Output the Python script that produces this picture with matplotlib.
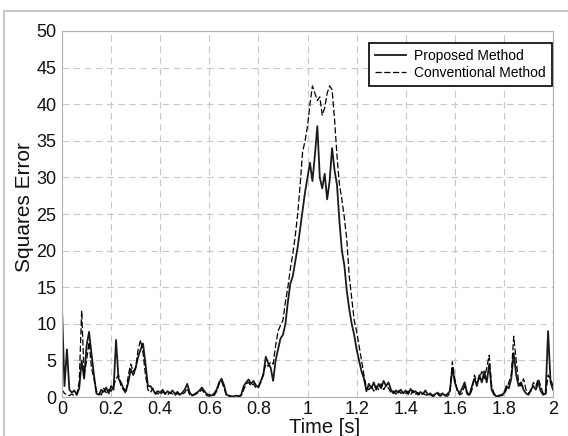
import numpy as np
import matplotlib.pyplot as plt
from matplotlib.lines import Line2D

plt.rcParams['font.family'] = ['Liberation Sans', 'DejaVu Sans']

# samples every 0.01 s
time_s = np.round(np.arange(0, 201) * 0.01, 2)

proposed = [
    12.0, 1.5, 6.5, 1.0, 0.6, 0.9, 0.3, 1.2, 5.0, 2.5,
    7.0, 8.9, 6.0, 3.0, 0.5, 0.3, 1.0, 0.7, 1.3, 0.5,
    1.5, 1.0, 7.8, 2.5, 2.0, 1.2, 0.8, 2.0, 3.8, 3.0,
    4.0, 5.5, 6.5, 7.3, 4.5, 1.5, 1.5, 1.0, 0.5, 0.8,
    0.6, 1.0, 0.4, 0.8, 0.5, 0.9, 0.4, 0.7, 0.3, 0.6,
    1.0, 1.8, 0.6, 0.2, 0.4, 0.6, 0.9, 1.3, 0.8, 0.4,
    0.3, 0.2, 0.5, 1.0, 2.0, 2.5, 1.6, 0.3, 0.2, 0.1,
    0.1, 0.2, 0.1, 0.3, 1.5, 2.0, 2.4, 1.8, 2.2, 1.6,
    1.3, 2.2, 3.0, 5.5, 4.6, 4.0, 2.2, 5.0, 6.5, 8.0,
    8.5, 10.0, 13.0, 15.5, 16.5, 18.5, 20.5, 23.0, 25.5, 28.0,
    30.0, 32.0, 29.5, 33.0, 37.0, 30.0, 28.5, 30.5, 27.0, 29.5,
    34.0, 31.0, 29.0, 24.0, 20.0, 18.0, 14.5, 12.0, 10.0, 8.5,
    6.5, 5.0, 3.5, 2.5, 0.8, 1.8, 1.2, 2.0, 1.0, 1.8,
    1.2, 2.2, 1.5, 2.0, 1.0, 0.5, 0.9, 0.6, 1.0, 0.5,
    0.9, 0.4, 1.1, 0.6, 0.8, 0.3, 0.7, 0.4, 0.9, 0.3,
    0.5, 0.2, 0.4, 0.6, 0.3, 0.5, 0.2, 0.4, 0.8, 4.0,
    2.0, 1.0, 0.5, 1.2, 2.0, 0.6, 0.3, 1.5, 2.5, 1.5,
    3.0, 2.0, 3.5, 2.0, 4.5, 1.0, 0.3, 0.1, 0.2, 0.3,
    0.5, 1.5, 1.2, 2.5, 6.0, 3.0, 1.5, 2.0, 1.0, 0.5,
    0.3, 1.0, 1.5, 1.0, 2.0, 0.8, 0.3, 0.5, 9.0, 2.0,
    1.0,
]

conventional = [
    1.0, 0.5, 0.3, 0.2, 0.4, 0.2, 0.3, 2.0, 11.8, 3.0,
    5.0, 7.5, 4.0, 2.5, 0.8, 0.5, 0.3, 1.2, 0.6, 1.0,
    0.8, 1.5, 2.5, 3.0, 1.5, 1.0, 0.5, 3.0, 4.5, 3.5,
    4.0, 6.5, 7.8, 6.0, 3.0, 1.0, 0.6, 1.2, 0.4, 0.5,
    0.3, 0.7, 0.5, 0.3, 0.6, 0.4, 0.2, 0.5, 0.3, 0.4,
    0.6, 1.2, 0.3, 0.2, 0.3, 0.5, 0.7, 1.0, 0.5, 0.2,
    0.1, 0.3, 0.2, 0.8, 1.8, 2.2, 1.2, 0.2, 0.1, 0.0,
    0.0, 0.1, 0.0, 0.2, 1.0, 1.8, 2.0, 1.5, 1.8, 1.2,
    1.5, 2.0, 3.2, 4.5, 4.2, 4.8, 4.5, 7.0, 9.0, 9.8,
    10.5, 13.0, 15.0, 17.5, 19.5, 22.0, 25.0, 29.0, 33.5, 35.0,
    37.0, 40.0, 42.5, 41.5, 40.5, 41.0, 38.5, 39.5, 41.5, 42.5,
    42.0, 38.0, 33.0, 29.0, 27.0, 24.5, 21.5, 16.5, 13.5, 10.5,
    9.0, 7.0, 5.0, 3.0, 1.2, 1.0, 1.5, 0.8, 1.5, 1.0,
    1.8, 1.0, 1.6, 1.2, 0.6, 0.8, 0.4, 0.9, 0.5, 0.7,
    0.5, 0.8, 0.3, 0.9, 0.4, 0.6, 0.2, 0.5, 0.3, 0.2,
    0.3, 0.1, 0.2, 0.4, 0.1, 0.3, 0.2, 0.1, 0.5, 4.8,
    2.5, 0.8, 0.3, 0.5, 1.5, 0.4, 0.2, 1.0, 3.0, 2.0,
    2.5, 3.5, 2.5, 4.0, 5.7, 1.5, 0.5, 0.2, 0.1, 0.2,
    0.3, 1.0, 2.0, 3.0, 8.3, 5.0, 2.0, 1.5, 2.5, 1.0,
    0.5, 0.8, 2.0, 1.5, 2.5, 1.5, 0.5, 0.3, 3.0, 2.5,
    1.5,
]

x_ticks = [0, 0.2, 0.4, 0.6, 0.8, 1.0, 1.2, 1.4, 1.6, 1.8, 2.0]
x_labels = ["0", "0.2", "0.4", "0.6", "0.8", "1", "1.2", "1.4", "1.6", "1.8", "2"]
y_ticks = list(range(0, 51, 5))

fig = plt.figure(figsize=(5.68, 4.36), dpi=100)
ax = fig.add_axes([0.1092, 0.0894, 0.8644, 0.8395])

ax.plot(time_s, proposed, color="#1a1a1a", lw=1.3, label="Proposed Method")
ax.plot(time_s, conventional, color="black", lw=0.9, ls=(0, (5, 2)),
        label="Conventional Method")

ax.set_xlim(0, 2)
ax.set_ylim(0, 50)
ax.set_xticks(x_ticks)
ax.set_xticklabels(x_labels)
ax.set_yticks(y_ticks)
ax.tick_params(length=0, labelsize=13, colors="#111111", pad=4)
ax.tick_params(axis="x", pad=3)

ax.grid(True, color="#c8c8c8", lw=0.8, ls=(0, (6, 4)))
for s in ax.spines.values():
    s.set_color("#b0b0b0")
    s.set_linewidth(0.8)

ax.set_xlabel("Time [s]", fontsize=14.5, color="#111111", va="center")
ax.set_ylabel("Squares Error", fontsize=15, color="#111111", va="center")
ax.xaxis.set_label_coords(0.534, -0.084)
ax.yaxis.set_label_coords(-0.077, 0.52)

leg = ax.legend(loc="upper right", bbox_to_anchor=(0.998, 0.967),
                borderaxespad=0, fancybox=False, fontsize=10,
                handlelength=2.2, handletextpad=0.6, labelspacing=0.2,
                borderpad=0.45, framealpha=1)
leg.get_frame().set_edgecolor("black")
leg.get_frame().set_linewidth(1.2)

# light border around the picture
bx, by = 4 / 568, 1 - 11 / 436
fig.add_artist(Line2D([bx, bx], [0, by], color="#c8c8c8", lw=1.5))
fig.add_artist(Line2D([bx, 1], [by, by], color="#c8c8c8", lw=1.5))

fig.savefig("out.png", dpi=100, facecolor="white")
